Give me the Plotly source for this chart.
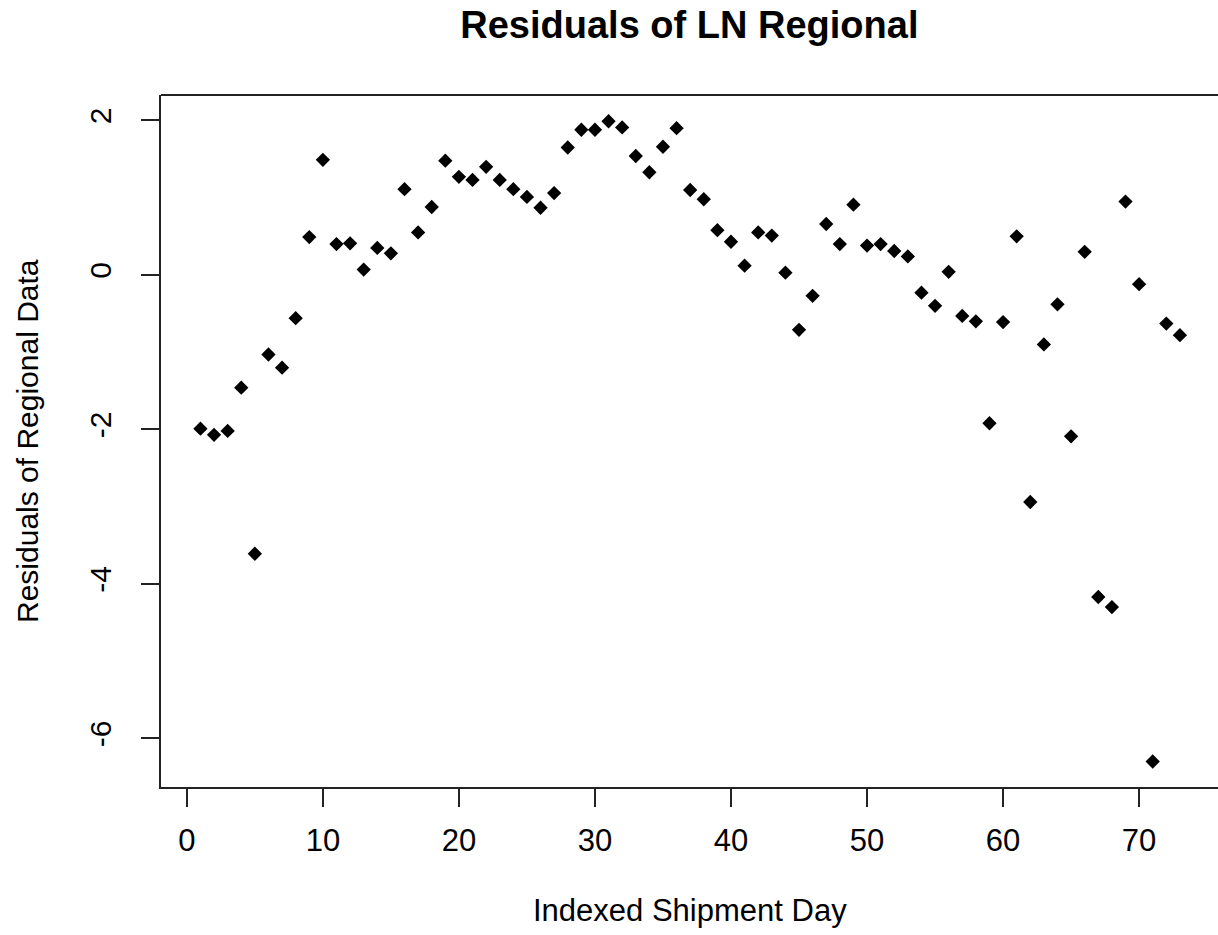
import plotly.graph_objects as go

# Data
days = list(range(1, 74))
residuals = [
    -1.99, -2.07, -2.02, -1.46, -3.61, -1.03, -1.20, -0.56, 0.49, 1.49,
    0.40, 0.41, 0.07, 0.35, 0.28, 1.11, 0.55, 0.88, 1.48, 1.27,
    1.23, 1.40, 1.23, 1.11, 1.01, 0.87, 1.06, 1.65, 1.88, 1.88,
    1.99, 1.91, 1.54, 1.33, 1.66, 1.90, 1.10, 0.98, 0.58, 0.43,
    0.12, 0.55, 0.51, 0.03, -0.71, -0.27, 0.66, 0.40, 0.91, 0.38,
    0.40, 0.31, 0.24, -0.23, -0.40, 0.04, -0.53, -0.60, -1.92, -0.61,
    0.50, -2.94, -0.90, -0.38, -2.09, 0.30, -4.17, -4.30, 0.95, -0.12,
    -6.30, -0.63, -0.78,
]
x_ticks = [0, 10, 20, 30, 40, 50, 60, 70]
y_ticks = [2, 0, -2, -4, -6]
y_tick_labels = ["2", "0", "-2", "-4", "-6"]

FONT = "Liberation Sans, Arial, Helvetica, sans-serif"
LINE = "#222222"

fig = go.Figure()
fig.add_trace(go.Scatter(
    x=days, y=residuals, mode="markers",
    marker=dict(symbol="diamond", size=11, color="black", line=dict(width=0)),
    showlegend=False, hoverinfo="x+y",
))

fig.update_layout(
    width=1218, height=935,
    margin=dict(l=161, r=0, t=95, b=148),
    paper_bgcolor="white", plot_bgcolor="white",
    font=dict(family=FONT, color="black", size=31),
    title=dict(
        text="<b>Residuals of LN Regional</b>",
        font=dict(family=FONT, size=38, color="black"),
        x=0.5660, xanchor="center", xref="container",
        y=1 - 25 / 935, yanchor="middle", yref="container",
    ),
    xaxis=dict(
        range=[-1.9, 75.8], tickvals=x_ticks,
        showgrid=False, zeroline=False,
        showline=True, linecolor=LINE, linewidth=2, mirror=False,
        ticks="outside", ticklen=18, tickwidth=2, tickcolor=LINE,
        tickfont=dict(family=FONT, size=31, color="black"),
        ticklabelstandoff=7,
    ),
    yaxis=dict(
        range=[-6.63, 2.33], tickvals=y_ticks, ticktext=y_tick_labels,
        showgrid=False, zeroline=False,
        showline=True, linecolor=LINE, linewidth=2, mirror=False,
        ticks="outside", ticklen=18, tickwidth=2, tickcolor=LINE,
        tickangle=-90,
        tickfont=dict(family=FONT, size=30, color="black"),
        ticklabelstandoff=18,
    ),
    shapes=[dict(
        type="line", xref="paper", yref="paper", x0=0, x1=1, y0=1, y1=1,
        line=dict(color=LINE, width=2),
    )],
    annotations=[
        dict(text="Indexed Shipment Day", xref="paper", yref="paper",
             x=0.5, y=0, yshift=-123, xanchor="center", yanchor="middle",
             showarrow=False, font=dict(family=FONT, size=31, color="black")),
        dict(text="Residuals of Regional Data", xref="paper", yref="paper",
             x=0, y=0.5, xshift=-134, textangle=-90,
             xanchor="center", yanchor="middle",
             showarrow=False, font=dict(family=FONT, size=30, color="black")),
    ],
)

fig.write_html("out.html")
